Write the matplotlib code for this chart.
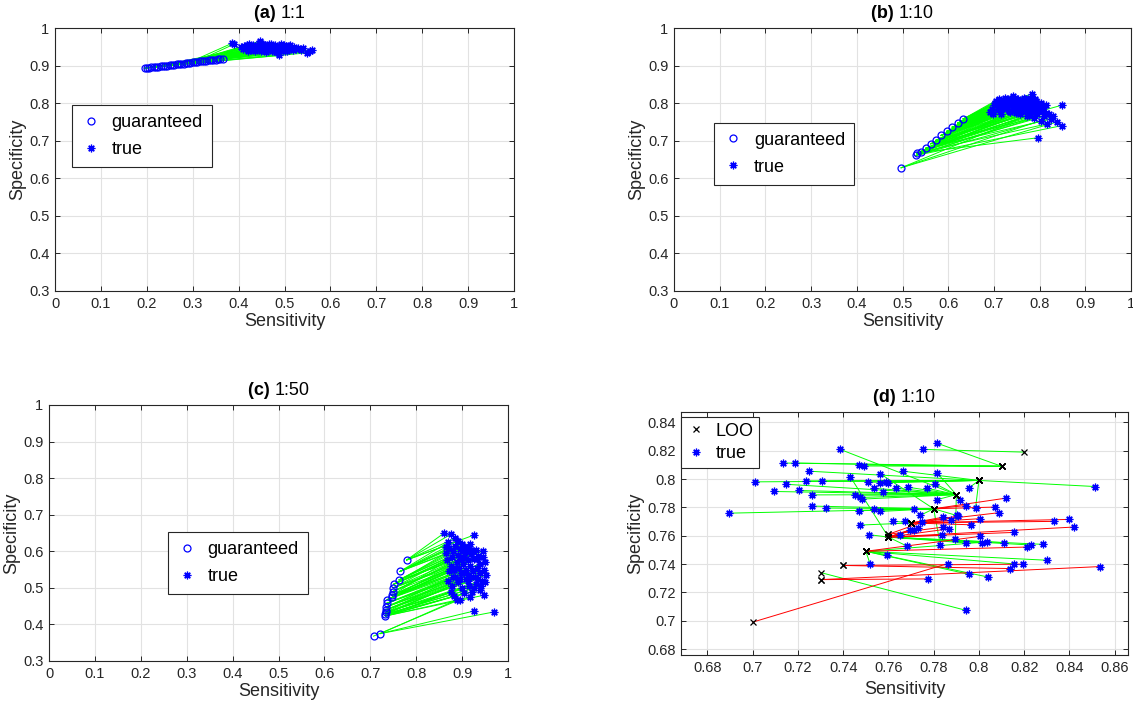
import matplotlib
matplotlib.use('Agg')
import matplotlib.pyplot as plt
import numpy as np
from matplotlib.ticker import FormatStrFormatter

plt.rcParams['font.family'] = ['Liberation Sans', 'DejaVu Sans']

# ---------------- datos ----------------
# (a) 1:1
guar_a_x = [0.195, 0.200, 0.205, 0.210, 0.215, 0.220, 0.225, 0.230, 0.235, 0.240,
            0.245, 0.250, 0.255, 0.260, 0.265, 0.270, 0.275, 0.280, 0.285, 0.290,
            0.295, 0.300, 0.305, 0.310, 0.315, 0.320, 0.325, 0.330, 0.335, 0.340,
            0.345, 0.350, 0.355, 0.360, 0.365]
guar_a_y = [0.893, 0.894, 0.8945, 0.895, 0.896, 0.897, 0.8975, 0.898, 0.899, 0.8995,
            0.900, 0.901, 0.902, 0.9025, 0.903, 0.904, 0.905, 0.9055, 0.906, 0.907,
            0.908, 0.9085, 0.909, 0.910, 0.911, 0.9115, 0.912, 0.913, 0.914, 0.9145,
            0.915, 0.916, 0.9165, 0.917, 0.918]
true_a_x = [0.385, 0.390, 0.412, 0.415, 0.418, 0.420, 0.425, 0.428, 0.430, 0.433,
            0.436, 0.440, 0.442, 0.445, 0.447, 0.450, 0.452, 0.455, 0.458, 0.460,
            0.462, 0.465, 0.468, 0.470, 0.472, 0.475, 0.478, 0.480, 0.482, 0.485,
            0.487, 0.488, 0.490, 0.492, 0.495, 0.497, 0.500, 0.503, 0.505, 0.508,
            0.510, 0.515, 0.520, 0.525, 0.530, 0.535, 0.540, 0.550, 0.556, 0.559,
            0.405, 0.410, 0.422, 0.427, 0.432, 0.438, 0.443, 0.448, 0.453, 0.457,
            0.463, 0.467, 0.473, 0.477, 0.483, 0.493, 0.498, 0.506, 0.512, 0.518]
true_a_y = [0.959, 0.957, 0.952, 0.946, 0.955, 0.940, 0.948, 0.953, 0.944, 0.950,
            0.938, 0.955, 0.947, 0.961, 0.965, 0.942, 0.951, 0.946, 0.956, 0.937,
            0.949, 0.953, 0.944, 0.958, 0.940, 0.950, 0.946, 0.954, 0.936, 0.948,
            0.927, 0.943, 0.952, 0.957, 0.945, 0.950, 0.940, 0.953, 0.947, 0.943,
            0.951, 0.946, 0.950, 0.944, 0.948, 0.941, 0.946, 0.934, 0.938, 0.942,
            0.950, 0.944, 0.958, 0.942, 0.956, 0.945, 0.952, 0.939, 0.958, 0.943,
            0.941, 0.957, 0.952, 0.939, 0.950, 0.938, 0.955, 0.939, 0.955, 0.942]
link_a = [19, 22, 30, 5, 27, 2, 33, 12, 8, 25, 0, 31, 15, 20, 17, 3, 28, 10, 24, 1,
          34, 13, 6, 21, 4, 29, 9, 26, 7, 32, 11, 14, 23, 18, 16, 2, 8, 30, 4, 12,
          27, 1, 19, 6, 24, 10, 0, 3, 0, 15,
          21, 9, 33, 5, 26, 11, 28, 2, 31, 7, 0, 29, 23, 4, 17, 1, 25, 6, 32, 13]

# (b) 1:10
guar_b_x = [0.497, 0.530, 0.531, 0.540, 0.551, 0.562, 0.573, 0.584, 0.597, 0.609, 0.621, 0.633]
guar_b_y = [0.628, 0.661, 0.667, 0.671, 0.680, 0.692, 0.701, 0.714, 0.725, 0.736, 0.747, 0.758]
true_b_x = [0.692, 0.700, 0.705, 0.710, 0.712, 0.715, 0.718, 0.720, 0.722, 0.725,
            0.728, 0.730, 0.733, 0.735, 0.738, 0.741, 0.742, 0.745, 0.748, 0.750,
            0.752, 0.755, 0.758, 0.760, 0.762, 0.765, 0.767, 0.770, 0.772, 0.775,
            0.778, 0.780, 0.783, 0.785, 0.787, 0.790, 0.792, 0.795, 0.797, 0.800,
            0.803, 0.806, 0.810, 0.813, 0.817, 0.820, 0.826, 0.838, 0.848, 0.850,
            0.695, 0.698, 0.703, 0.708, 0.713, 0.716, 0.721, 0.726, 0.731, 0.736,
            0.740, 0.744, 0.747, 0.751, 0.756, 0.759, 0.763, 0.768, 0.771, 0.776,
            0.779, 0.782, 0.786, 0.789, 0.794, 0.798, 0.802, 0.808, 0.815, 0.830]
true_b_y = [0.776, 0.795, 0.805, 0.790, 0.812, 0.800, 0.785, 0.808, 0.795, 0.815,
            0.790, 0.802, 0.780, 0.810, 0.796, 0.820, 0.785, 0.805, 0.775, 0.798,
            0.812, 0.788, 0.770, 0.803, 0.795, 0.815, 0.782, 0.800, 0.765, 0.808,
            0.790, 0.776, 0.825, 0.798, 0.760, 0.785, 0.805, 0.770, 0.708, 0.790,
            0.752, 0.778, 0.765, 0.795, 0.745, 0.770, 0.758, 0.750, 0.740, 0.795,
            0.785, 0.770, 0.800, 0.781, 0.795, 0.772, 0.802, 0.786, 0.812, 0.776,
            0.800, 0.792, 0.815, 0.781, 0.806, 0.792, 0.778, 0.810, 0.790, 0.768,
            0.815, 0.800, 0.780, 0.810, 0.793, 0.778, 0.800, 0.788, 0.775, 0.765]
link_b = [9, 11, 10, 8, 11, 7, 9, 10, 6, 11, 8, 9, 5, 10, 7, 11, 6, 9, 4, 8,
          10, 7, 3, 9, 6, 11, 5, 8, 2, 10, 7, 4, 11, 8, 1, 6, 9, 3, 2, 5,
          1, 4, 3, 7, 2, 5, 4, 0, 1, 6,
          8, 6, 10, 5, 9, 4, 10, 7, 11, 3, 9, 6, 11, 2, 10, 8, 1, 11, 5, 0,
          10, 7, 3, 9, 4, 2, 8, 5, 1, 0]

# (c) 1:50
guar_c_x = [0.707, 0.722, 0.733, 0.733, 0.734, 0.734, 0.735, 0.736, 0.737, 0.748,
            0.748, 0.749, 0.750, 0.751, 0.763, 0.765, 0.779]
guar_c_y = [0.368, 0.375, 0.423, 0.428, 0.433, 0.440, 0.448, 0.458, 0.468, 0.474,
            0.480, 0.490, 0.500, 0.510, 0.522, 0.545, 0.576]
true_c_x = [0.860, 0.875, 0.925, 0.866, 0.870, 0.880, 0.885, 0.890, 0.895, 0.900,
            0.905, 0.910, 0.915, 0.920, 0.925, 0.930, 0.935, 0.945, 0.868, 0.875,
            0.882, 0.888, 0.893, 0.898, 0.903, 0.908, 0.913, 0.918, 0.923, 0.928,
            0.933, 0.938, 0.943, 0.948, 0.952, 0.870, 0.878, 0.885, 0.892, 0.900,
            0.908, 0.915, 0.922, 0.930, 0.940, 0.948, 0.888, 0.895, 0.927, 0.969,
            0.865, 0.872, 0.878, 0.884, 0.892, 0.897, 0.902, 0.907, 0.912, 0.917,
            0.924, 0.932, 0.940, 0.945, 0.950, 0.872, 0.880, 0.887, 0.896, 0.905,
            0.912, 0.920, 0.926, 0.935, 0.942, 0.950, 0.875, 0.883, 0.905, 0.918]
true_c_y = [0.649, 0.646, 0.644, 0.612, 0.625, 0.600, 0.615, 0.590, 0.605, 0.620,
            0.585, 0.598, 0.610, 0.592, 0.580, 0.603, 0.588, 0.600, 0.575, 0.560,
            0.548, 0.570, 0.555, 0.540, 0.565, 0.550, 0.535, 0.560, 0.545, 0.530,
            0.555, 0.540, 0.520, 0.550, 0.535, 0.520, 0.505, 0.530, 0.515, 0.500,
            0.525, 0.505, 0.490, 0.510, 0.495, 0.480, 0.467, 0.468, 0.437, 0.434,
            0.595, 0.610, 0.585, 0.635, 0.628, 0.580, 0.600, 0.612, 0.575, 0.620,
            0.600, 0.578, 0.565, 0.585, 0.570, 0.545, 0.530, 0.555, 0.525, 0.540,
            0.520, 0.530, 0.500, 0.525, 0.505, 0.515, 0.490, 0.478, 0.485, 0.475]
link_c = [16, 16, 16, 15, 15, 14, 15, 13, 14, 15, 12, 13, 14, 11, 10, 13, 12, 14, 10, 9,
          8, 11, 9, 7, 10, 8, 6, 9, 7, 5, 8, 6, 4, 7, 5, 4, 3, 6, 3, 2,
          5, 2, 2, 4, 3, 2, 1, 0, 1, 1,
          13, 15, 12, 16, 16, 11, 14, 15, 10, 15, 13, 11, 9, 12, 10, 8, 6, 9, 5, 7,
          4, 6, 3, 5, 3, 4, 2, 2, 2, 2]

# (d) 1:10 -- LOO vs true
loo_x = [0.82, 0.81, 0.80, 0.79, 0.78, 0.77, 0.76, 0.76, 0.75, 0.74, 0.73, 0.73, 0.70]
loo_y = [0.819, 0.809, 0.799, 0.789, 0.779, 0.769, 0.761, 0.759, 0.749, 0.739, 0.734, 0.729, 0.699]
true_d_x = [0.7387, 0.7132, 0.7185, 0.7468, 0.7490, 0.7251, 0.7665, 0.7009, 0.7146, 0.7237,
            0.7306, 0.7431, 0.7563, 0.7509, 0.7563, 0.7588, 0.7599, 0.7093, 0.7206, 0.7263,
            0.7454, 0.7475, 0.7481, 0.7534, 0.7575, 0.7635, 0.7688, 0.7771, 0.7807, 0.7816,
            0.7262, 0.7326, 0.6894, 0.7468, 0.7537, 0.7562, 0.7754, 0.7813, 0.8513, 0.7954,
            0.7816, 0.7918, 0.7943, 0.7985, 0.8072, 0.8087, 0.8119, 0.7475, 0.7516, 0.7619,
            0.7675, 0.7713, 0.7740, 0.7747, 0.7843, 0.7875, 0.7901, 0.7909, 0.7965, 0.8004,
            0.8332, 0.8399, 0.8419, 0.7696, 0.7715, 0.7732, 0.7843, 0.7869, 0.7653, 0.8153,
            0.7684, 0.7829, 0.7835, 0.7896, 0.7943, 0.8004, 0.8012, 0.8035, 0.8109, 0.8213,
            0.8232, 0.8282, 0.7593, 0.7519, 0.8299, 0.8153, 0.8194, 0.8137, 0.7862, 0.7954,
            0.8038, 0.7774, 0.8534, 0.7943]
true_d_y = [0.8209, 0.8113, 0.8113, 0.8099, 0.8092, 0.8055, 0.8055, 0.7980, 0.7963, 0.7987,
            0.7984, 0.8017, 0.8038, 0.7977, 0.7975, 0.7982, 0.7975, 0.7912, 0.7919, 0.7888,
            0.7886, 0.7870, 0.7858, 0.7935, 0.7905, 0.7935, 0.7942, 0.7935, 0.7966, 0.8041,
            0.7809, 0.7795, 0.7759, 0.7776, 0.7790, 0.7771, 0.8209, 0.8254, 0.7947, 0.7935,
            0.7855, 0.7853, 0.7813, 0.7795, 0.7802, 0.7762, 0.7865, 0.7675, 0.7607, 0.7703,
            0.7703, 0.7785, 0.7743, 0.7694, 0.7731, 0.7708, 0.7743, 0.7738, 0.7677, 0.7720,
            0.7701, 0.7715, 0.7661, 0.7642, 0.7640, 0.7654, 0.7661, 0.7649, 0.7607, 0.7623,
            0.7525, 0.7537, 0.7602, 0.7577, 0.7549, 0.7595, 0.7549, 0.7556, 0.7551, 0.7520,
            0.7534, 0.7539, 0.7466, 0.7401, 0.7427, 0.7401, 0.7399, 0.7368, 0.7403, 0.7328,
            0.7309, 0.7295, 0.7382, 0.7073]
link_d = [3, 1, 1, 1, 1, 2, 2, 2, 3, 2,
          2, 7, 4, 2, 2, 2, 2, 3, 3, 3,
          3, 3, 3, 3, 3, 3, 3, 3, 3, 3,
          4, 4, 4, 4, 4, 4, 0, 1, 2, 2,
          3, 3, 4, 2, 4, 5, 4, 5, 7, 5,
          5, 4, 4, 6, 5, 5, 4, 5, 5, 5,
          5, 5, 7, 7, 7, 7, 6, 7, 7, 7,
          7, 4, 7, 3, 7, 8, 7, 8, 7, 8,
          7, 7, 8, 8, 8, 8, 9, 9, 12, 8,
          8, 11, 11, 10]
# 'g' = verde, 'r' = rojo
color_d = ['g', 'g', 'g', 'g', 'g', 'g', 'g', 'g', 'g', 'g',
           'g', 'g', 'g', 'g', 'g', 'g', 'g', 'g', 'g', 'g',
           'g', 'g', 'g', 'g', 'g', 'g', 'g', 'g', 'g', 'g',
           'g', 'g', 'g', 'g', 'g', 'g', 'g', 'g', 'g', 'g',
           'g', 'g', 'r', 'g', 'r', 'r', 'r', 'g', 'g', 'g',
           'g', 'g', 'g', 'r', 'r', 'r', 'g', 'r', 'r', 'r',
           'r', 'r', 'r', 'r', 'r', 'r', 'r', 'r', 'g', 'r',
           'g', 'g', 'r', 'g', 'g', 'r', 'g', 'g', 'g', 'r',
           'g', 'g', 'g', 'g', 'g', 'g', 'r', 'r', 'r', 'g',
           'g', 'r', 'r', 'g']

# ---------------- estilo ----------------
AX_COLOR = '#262626'
GRID_COLOR = '#e2e2e2'
GREEN = (0, 1, 0)
RED = (1, 0, 0)
BLUE = (0, 0, 1)
ASTER = (8, 2, 0)   # asterisco tipo MATLAB '*'
W, H = 1133, 704


def crear_ejes(fig, l, t, r, b):
    """Ejes en coordenadas de pixel (izq, arriba, der, abajo)."""
    return fig.add_axes([l / W, 1 - b / H, (r - l) / W, (b - t) / H])


def estilo_ejes(ax, xlim, ylim, xticks, yticks, xpad=2):
    ax.set_xlim(*xlim)
    ax.set_ylim(*ylim)
    ax.set_xticks(xticks)
    ax.set_yticks(yticks)
    ax.xaxis.set_major_formatter(FormatStrFormatter('%g'))
    ax.yaxis.set_major_formatter(FormatStrFormatter('%g'))
    ax.grid(True, color=GRID_COLOR, linewidth=0.8)
    ax.set_axisbelow(True)
    for s in ax.spines.values():
        s.set_color(AX_COLOR)
        s.set_linewidth(0.8)
    ax.tick_params(direction='in', top=True, right=True, length=3.5, width=0.7,
                   color=AX_COLOR, labelcolor=AX_COLOR, labelsize=10.5, pad=4)
    ax.set_xlabel('Sensitivity', fontsize=13, color=AX_COLOR, labelpad=xpad)
    ax.set_ylabel('Specificity', fontsize=13, color=AX_COLOR, labelpad=2)


def titulo(ax, tag, texto):
    t = ax.annotate(tag + ' ', xy=(0.5, 1.0), xycoords='axes fraction',
                    xytext=(-3, 4), textcoords='offset points',
                    ha='right', va='bottom', fontsize=13, fontweight='bold', color='black')
    ax.annotate(texto, xy=(1, 0), xycoords=t, ha='left', va='bottom',
                fontsize=13, color='black')


def leyenda(ax, x, y, borderpad=0.5, labelspacing=0.55, textpad=0.6):
    leg = ax.legend(loc='upper left', bbox_to_anchor=(x, y), borderaxespad=0,
                    fontsize=13, frameon=True, fancybox=False, framealpha=1,
                    handlelength=1.1, handletextpad=textpad, borderpad=borderpad,
                    labelspacing=labelspacing, numpoints=1)
    leg.get_frame().set_edgecolor(AX_COLOR)
    leg.get_frame().set_linewidth(0.8)
    return leg


def panel_garantizado(ax, gx, gy, tx, ty, link):
    gx, gy = np.array(gx), np.array(gy)
    tx, ty = np.array(tx), np.array(ty)
    idx = np.array(link)
    ax.plot(np.vstack([gx[idx], tx]), np.vstack([gy[idx], ty]),
            color=GREEN, linewidth=0.7, zorder=2)
    ax.plot(gx, gy, linestyle='none', marker='o', ms=5, mfc='none', mec=BLUE,
            mew=0.9, zorder=3, label='guaranteed')
    ax.plot(tx, ty, linestyle='none', marker=ASTER, ms=5.5, mec=BLUE,
            mew=0.9, zorder=3, label='true')


fig = plt.figure(figsize=(W / 100, H / 100), dpi=100)

ticks01 = np.round(np.arange(0, 1.01, 0.1), 2)
ticks_y = np.round(np.arange(0.3, 1.01, 0.1), 2)

# (a)
ax1 = crear_ejes(fig, 55, 28, 514, 291)
panel_garantizado(ax1, guar_a_x, guar_a_y, true_a_x, true_a_y, link_a)
estilo_ejes(ax1, (0, 1), (0.3, 1), ticks01, ticks_y)
titulo(ax1, '(a)', '1:1')
leyenda(ax1, 0.037, 0.707)

# (b)
ax2 = crear_ejes(fig, 674, 28, 1131, 291)
panel_garantizado(ax2, guar_b_x, guar_b_y, true_b_x, true_b_y, link_b)
estilo_ejes(ax2, (0, 1), (0.3, 1), ticks01, ticks_y)
titulo(ax2, '(b)', '1:10')
leyenda(ax2, 0.088, 0.640)

# (c)
ax3 = crear_ejes(fig, 49, 405, 508, 661)
panel_garantizado(ax3, guar_c_x, guar_c_y, true_c_x, true_c_y, link_c)
estilo_ejes(ax3, (0, 1), (0.3, 1), ticks01, ticks_y)
titulo(ax3, '(c)', '1:50')
leyenda(ax3, 0.259, 0.504)

# (d)
ax4 = crear_ejes(fig, 681, 412, 1128, 655)
lx, ly = np.array(loo_x), np.array(loo_y)
tx, ty = np.array(true_d_x), np.array(true_d_y)
idx = np.array(link_d)
col = np.array(color_d)
for c, rgb in (('g', GREEN), ('r', RED)):
    m = col == c
    ax4.plot(np.vstack([lx[idx[m]], tx[m]]), np.vstack([ly[idx[m]], ty[m]]),
             color=rgb, linewidth=0.7, zorder=2)
ax4.plot(lx[idx], ly[idx], linestyle='none', marker='x', ms=4.5, mec='black',
         mew=0.9, zorder=4, label='LOO')
ax4.plot(tx, ty, linestyle='none', marker=ASTER, ms=5.5, mec=BLUE,
         mew=0.9, zorder=3, label='true')
estilo_ejes(ax4, (0.6683, 0.8659), (0.6758, 0.8473),
            np.round(np.arange(0.68, 0.861, 0.02), 2),
            np.round(np.arange(0.68, 0.841, 0.02), 2), xpad=5)
titulo(ax4, '(d)', '1:10')
leyenda(ax4, 0.0, 0.979, borderpad=0.3, labelspacing=0.33, textpad=0.5)

fig.savefig('out.png', dpi=100)
plt.close(fig)
